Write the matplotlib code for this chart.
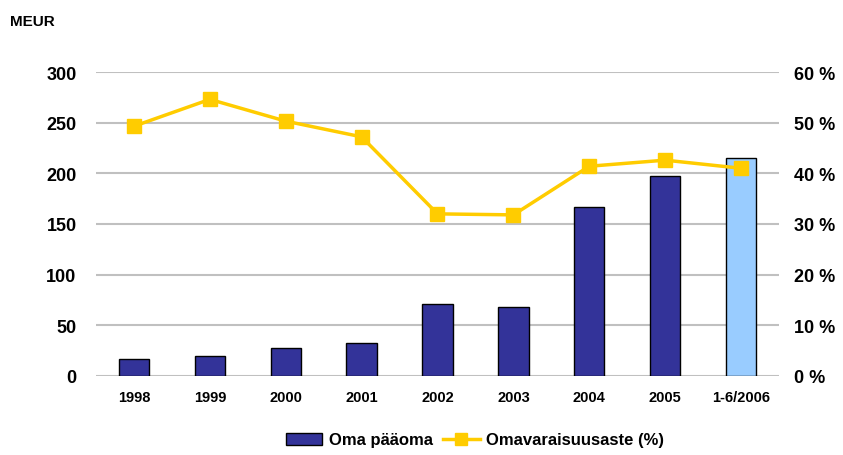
import matplotlib.pyplot as plt
import numpy as np

plt.rcParams['font.family'] = ['Liberation Sans', 'DejaVu Sans']
plt.rcParams['font.weight'] = 'bold'

years = ['1998', '1999', '2000', '2001', '2002', '2003', '2004', '2005', '1-6/2006']
equity = [17, 20, 27.5, 32.5, 71, 68, 166.5, 197, 215]
ratio = [49.3, 54.6, 50.3, 47.2, 32.0, 31.8, 41.4, 42.6, 41.0]
bar_colors = ['#333399'] * 8 + ['#99ccff']

fig = plt.figure(figsize=(8.43, 4.56), dpi=100)
ax = fig.add_axes([96 / 843, 1 - 377 / 456, 683 / 843, 304 / 456])
ax2 = ax.twinx()

x = np.arange(len(years))
ax.bar(x, equity, width=0.4, color=bar_colors, edgecolor='black', linewidth=1,
       zorder=3, label='Oma pääoma')
ax2.plot(x, ratio, color='#ffcc00', linewidth=2.5, marker='s', markersize=10,
         zorder=4, label='Omavaraisuusaste (%)')

ax.set_xlim(-0.5, len(years) - 0.5)
ax.set_ylim(0, 300)
ax2.set_ylim(0, 60)
ax.set_yticks(range(0, 301, 50))
ax2.set_yticks(range(0, 61, 10))
ax2.set_yticklabels([f'{v} %' for v in range(0, 61, 10)])
ax.set_xticks(x)
ax.set_xticklabels(years, fontsize=10.5)

ax.grid(axis='y', color='#c0c0c0', linewidth=1.5, zorder=0)
ax.set_axisbelow(True)
for a in (ax, ax2):
    for s in a.spines.values():
        s.set_visible(False)
    a.tick_params(length=0)
ax.tick_params(axis='y', labelsize=13, pad=14)
ax2.tick_params(axis='y', labelsize=13, pad=11)
ax.tick_params(axis='x', pad=10)

fig.text(10 / 843, 1 - 22 / 456, 'MEUR', fontsize=11, fontweight='bold', va='center')

h1, l1 = ax.get_legend_handles_labels()
h2, l2 = ax2.get_legend_handles_labels()
leg = fig.legend(h1 + h2, l1 + l2, loc='center', bbox_to_anchor=(475 / 843, 1 - 441 / 456),
                 ncol=2, frameon=False, fontsize=12, handlelength=2.2, handletextpad=0.4,
                 columnspacing=0.6)
leg.legend_handles[1].set_markersize(8)

fig.savefig('out.png', dpi=100)
